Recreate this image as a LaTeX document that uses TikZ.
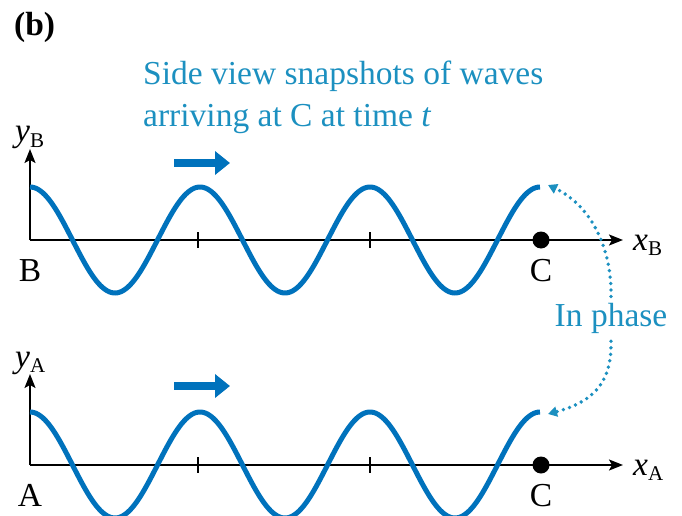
\documentclass[tikz,border=0pt]{standalone}
\usepackage{fontspec}
\setmainfont{Liberation Serif}
\usetikzlibrary{arrows.meta}
\definecolor{waveblue}{RGB}{0,114,188}
\definecolor{labcyan}{RGB}{28,144,192}
\newcommand{\subfont}{\fontsize{21}{24}\selectfont}
\begin{document}
\begin{tikzpicture}[x=1pt,y=-1pt,
  wave/.style={waveblue,line width=5pt},
  axis/.style={black,line width=1.6pt,-{Stealth[length=14pt,width=11pt,inset=3pt]}},
  tickmark/.style={black,line width=1.6pt},
  lab/.style={font=\fontsize{33.5}{38}\selectfont,inner sep=0pt},
  cyanlab/.style={lab,text=labcyan},
  move/.style={waveblue,line width=8pt,-{Triangle[length=15pt,width=23pt]}},
  phasearrow/.style={labcyan,line width=3.8pt,line cap=round,dash pattern=on 0pt off 6.5pt,-{Triangle[length=9pt,width=10pt]}}]
\useasboundingbox (0,0) rectangle (682,516);
\begin{scope}
\clip (0,0) rectangle (682,516);
% title
\node[lab,font=\fontsize{33.5}{38}\selectfont\bfseries,anchor=base west] (tag) at (14,36) {(b)};
\node[cyanlab,anchor=base west] (t1) at (143,85) {Side view snapshots of waves};
\node[cyanlab,anchor=base west] (t2) at (143,126) {arriving at C at time \textit{t}};
% ---------- top panel (B) ----------
\coordinate (oB) at (30,240);
\coordinate (yB) at (30,149);
\coordinate (xB) at (623,240);
\draw[axis] (oB) -- (yB);
\draw[axis] (oB) -- (xB);
\draw[tickmark] (198,232) -- (198,248);
\draw[tickmark] (370,232) -- (370,248);
\draw[wave] plot[domain=0:1080,samples=240] ({30+\x*0.47222},{240-53*cos(\x)});
\coordinate (endB) at (541,187);
\node[circle,fill=black,minimum size=17pt,inner sep=0pt] (cB) at (541,240) {};
\node[lab,anchor=base] (lB) at (30,281) {B};
\node[lab,anchor=base] (lCB) at (541,281) {C};
\node[lab,anchor=base west] (lxB) at (633,250) {\textit{x}\textsubscript{\subfont B}};
\node[lab,anchor=base west] (lyB) at (15,142) {\textit{y}\textsubscript{\subfont B}};
\coordinate (arB1) at (174,163);
\coordinate (arB2) at (230,163);
\draw[move] (arB1) -- (arB2);
% ---------- bottom panel (A) ----------
\coordinate (oA) at (30,465);
\coordinate (yA) at (30,374);
\coordinate (xA) at (623,465);
\draw[axis] (oA) -- (yA);
\draw[axis] (oA) -- (xA);
\draw[tickmark] (198,457) -- (198,473);
\draw[tickmark] (370,457) -- (370,473);
\draw[wave] plot[domain=0:1080,samples=240] ({30+\x*0.47222},{465-53*cos(\x)});
\coordinate (endA) at (541,412);
\node[circle,fill=black,minimum size=17pt,inner sep=0pt] (cA) at (541,465) {};
\node[lab,anchor=base] (lA) at (30,506) {A};
\node[lab,anchor=base] (lCA) at (541,506) {C};
\node[lab,anchor=base west] (lxA) at (633,475) {\textit{x}\textsubscript{\subfont A}};
\node[lab,anchor=base west] (lyA) at (15,367) {\textit{y}\textsubscript{\subfont A}};
\coordinate (arA1) at (174,386);
\coordinate (arA2) at (230,386);
\draw[move] (arA1) -- (arA2);
% ---------- in phase ----------
\node[cyanlab,anchor=base] (phase) at (611,326) {In phase};
\draw[phasearrow] ([yshift=6pt]phase.north) .. controls (612,250) and (592,206) .. ([xshift=7pt,yshift=2pt]endB);
\draw[phasearrow] ([yshift=-8pt]phase.south) .. controls (612,384) and (592,402) .. ([xshift=7pt,yshift=-2pt]endA);
\end{scope}
\end{tikzpicture}
\end{document}
